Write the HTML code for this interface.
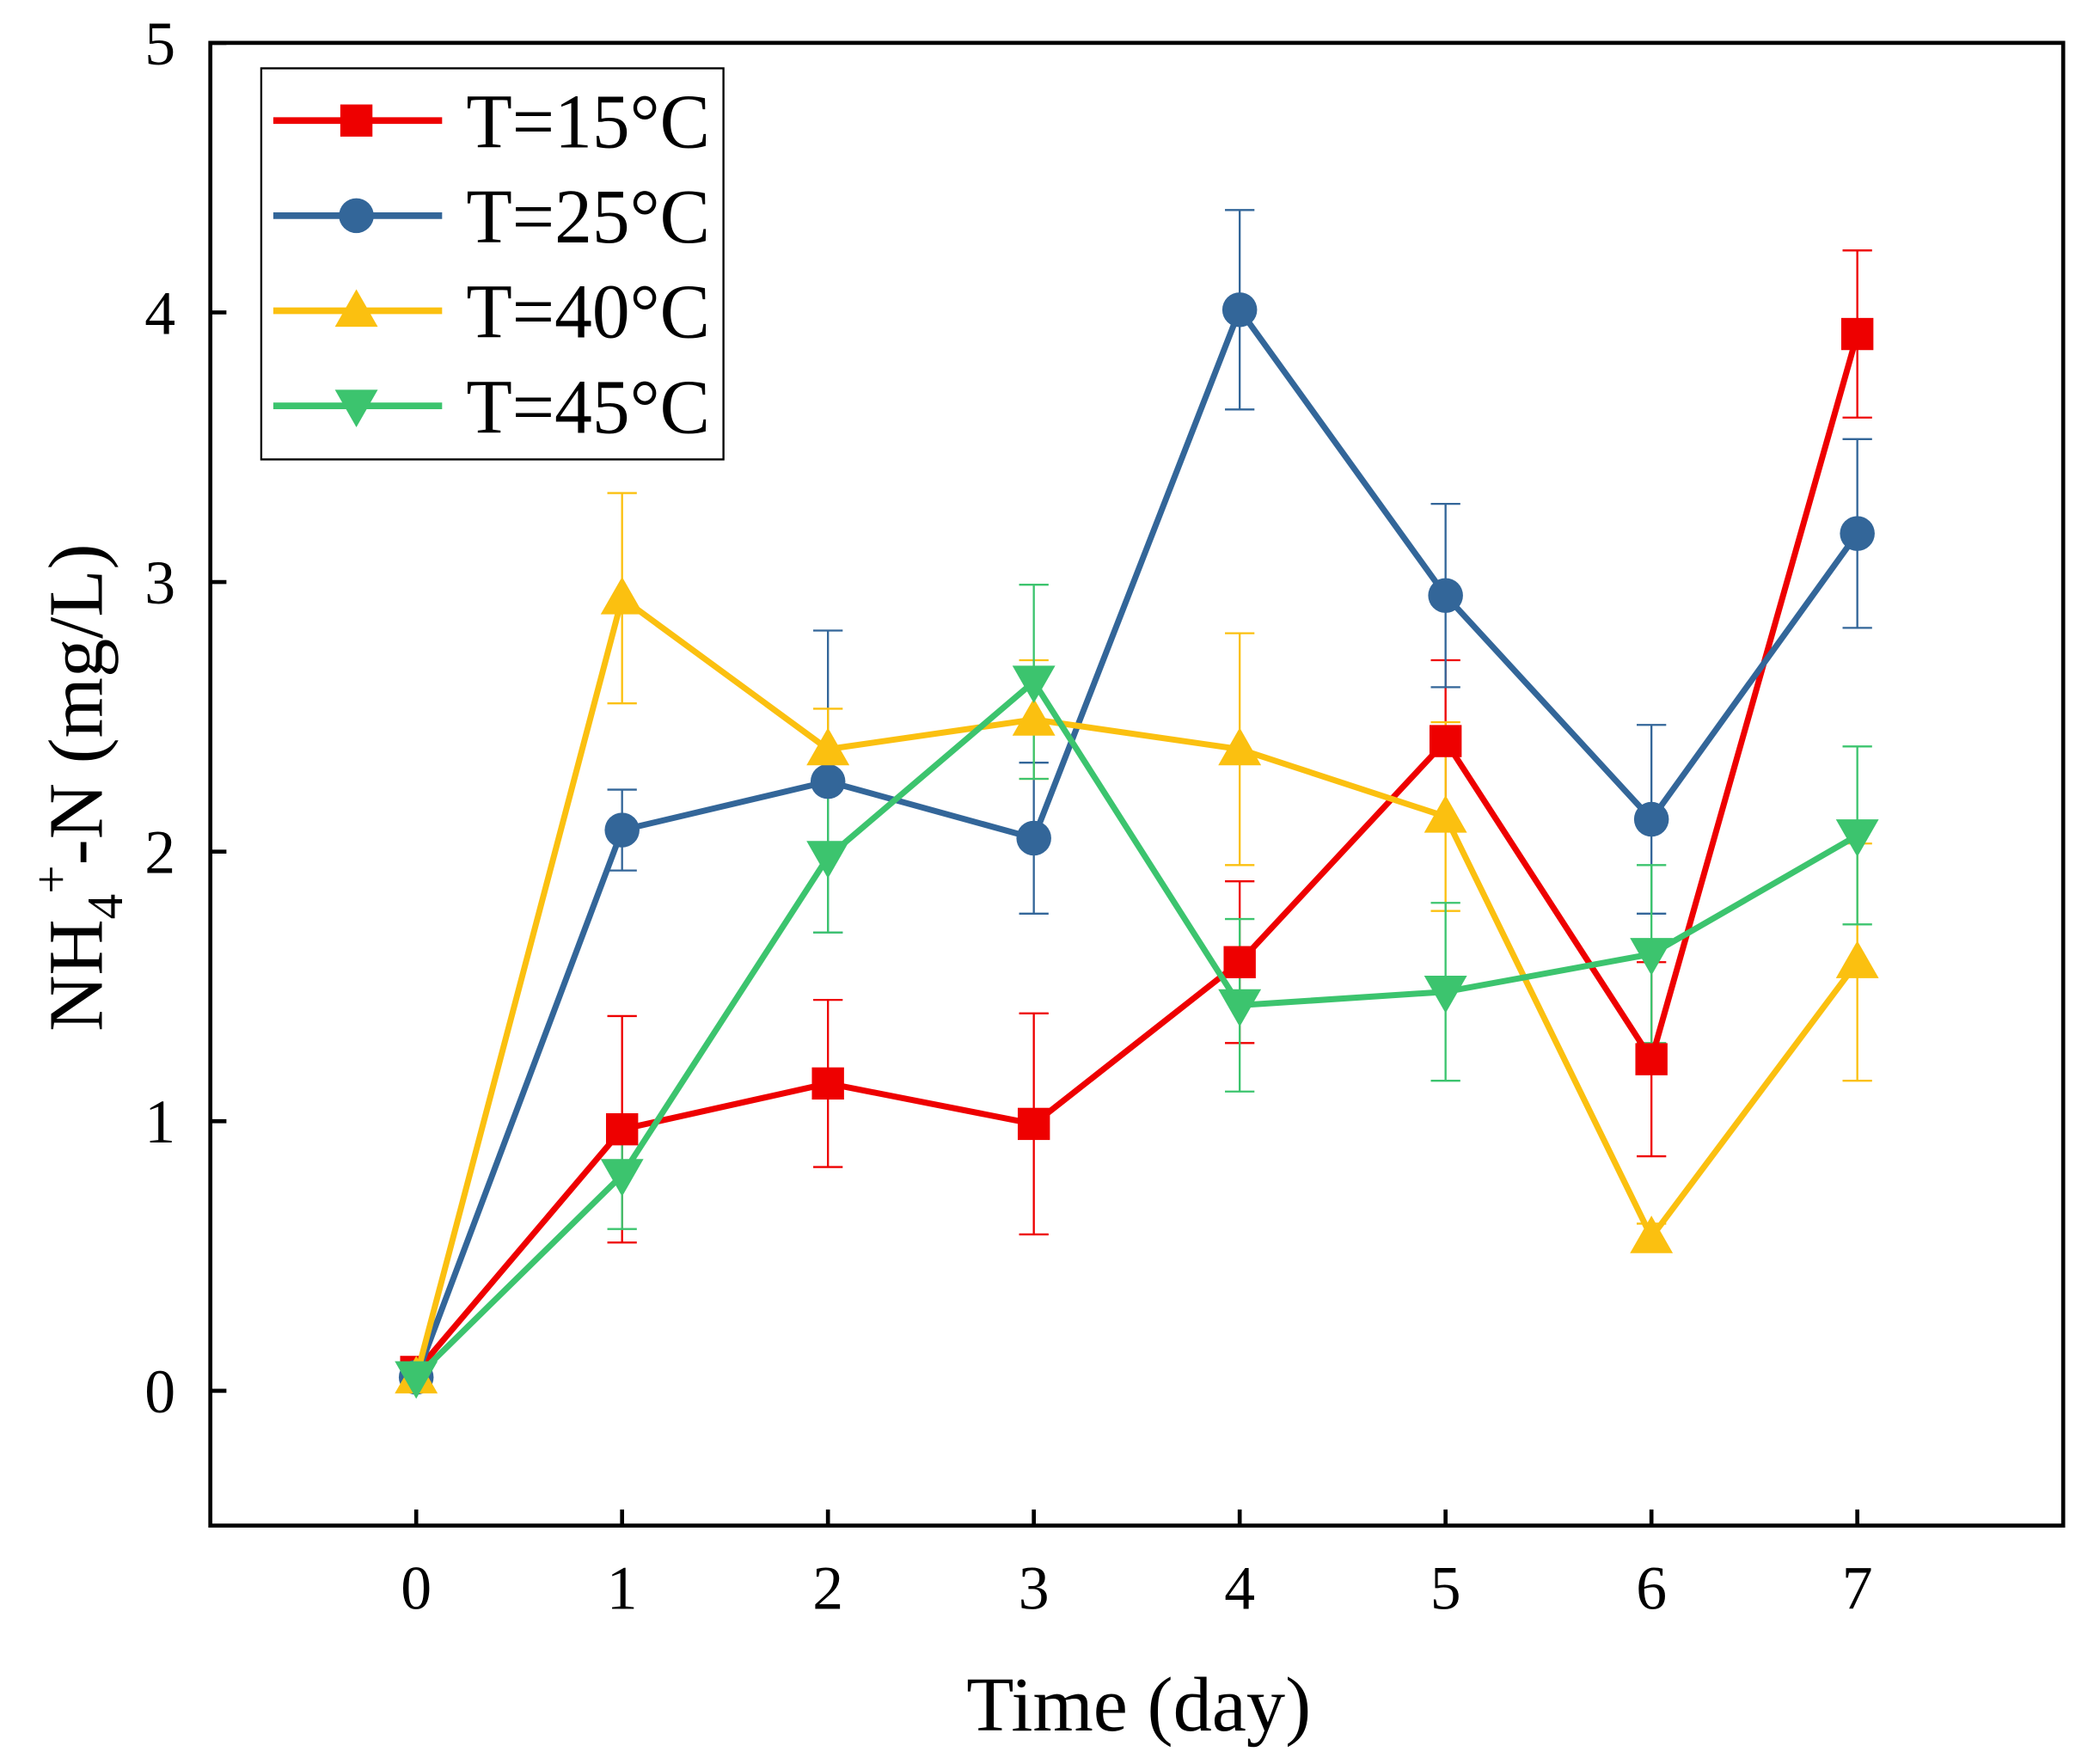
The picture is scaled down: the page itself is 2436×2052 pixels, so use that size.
<!DOCTYPE html>
<html><head><meta charset="utf-8"><style>
html,body{margin:0;padding:0;background:#fff}
svg{display:block}
text{font-family:"Liberation Serif","Times New Roman",Tinos,serif;fill:#000}
</style></head><body>
<svg id="chart" width="2436" height="2052" viewBox="0 0 1563 1317" preserveAspectRatio="none" xmlns="http://www.w3.org/2000/svg">
<g id="layer"></g>
</svg>
<script>
const days = [0,1,2,3,4,5,6,7];
const yTicks = [0,1,2,3,4,5];
const seriesNames = ["T=15°C","T=25°C","T=40°C","T=45°C"];
const vals15 = [0.07,0.97,1.14,0.99,1.59,2.41,1.23,3.92];
const err15  = [0.02,0.42,0.31,0.41,0.30,0.30,0.36,0.31];
const vals25 = [0.05,2.08,2.26,2.05,4.01,2.95,2.12,3.18];
const err25  = [0.02,0.15,0.56,0.28,0.37,0.34,0.35,0.35];
const vals40 = [0.05,2.94,2.38,2.49,2.38,2.13,0.57,1.59];
const err40  = [0.02,0.39,0.15,0.22,0.43,0.35,0.05,0.44];
const vals45 = [0.05,0.80,1.98,2.63,1.43,1.48,1.62,2.06];
const err45  = [0.02,0.20,0.28,0.36,0.32,0.33,0.33,0.33];

const L=157,R=1540,T=32,B=1139;
const xMin=-1,xMax=8,yMin=-0.5,yMax=5;
const sx=v=>L+(v-xMin)/(xMax-xMin)*(R-L);
const sy=v=>B-(v-yMin)/(yMax-yMin)*(B-T);
const NS="http://www.w3.org/2000/svg";
const g=document.getElementById('layer');
function mk(tag,attrs,parent){const e=document.createElementNS(NS,tag);for(const k in attrs)e.setAttribute(k,attrs[k]);(parent||g).appendChild(e);return e;}

const colors=["#ee0000","#336699","#fbc010","#3cc46e"];
const shapes=["square","circle","up","down"];
const allVals=[vals15,vals25,vals40,vals45];
const allErr=[err15,err25,err40,err45];

function marker(shape,x,y,c,parent){
  let e;
  if(shape==="square") e=mk('rect',{x:x-12,y:y-12,width:24,height:24,fill:c},parent);
  else if(shape==="circle") e=mk('ellipse',{cx:x,cy:y,rx:13,ry:13,fill:c},parent);
  else if(shape==="up") e=mk('polygon',{points:`${x},${y-16} ${x-16},${y+12} ${x+16},${y+12}`,fill:c},parent);
  else e=mk('polygon',{points:`${x},${y+16} ${x-16},${y-12} ${x+16},${y-12}`,fill:c},parent);
  return e;
}

allVals.forEach((vs,si)=>{
  const eg=mk('g',{});
  
  
  vs.forEach((v,i)=>{
    const x=sx(days[i]),y1=sy(v+allErr[si][i]),y2=sy(v-allErr[si][i]);
    mk('line',{x1:x,y1:y1,x2:x,y2:y2,stroke:colors[si],'stroke-width':1.5},eg);
    mk('line',{x1:x-11,y1:y1,x2:x+11,y2:y1,stroke:colors[si],'stroke-width':1.5},eg);
    mk('line',{x1:x-11,y1:y2,x2:x+11,y2:y2,stroke:colors[si],'stroke-width':1.5},eg);
  });
});
allVals.forEach((vs,si)=>{
  const sg=mk('g',{});
  
  
  const pl=mk('polyline',{points:vs.map((v,i)=>sx(days[i])+','+sy(v)).join(' '),fill:'none',stroke:colors[si],'stroke-width':4.5,'stroke-linejoin':'round'},sg);
  
  
  vs.forEach((v,i)=>{
    const m=marker(shapes[si],sx(days[i]),sy(v),colors[si],sg);
    
    
  });
});
const fr=mk('rect',{x:L,y:T,width:R-L,height:B-T,fill:'none',stroke:'#000','stroke-width':3});


yTicks.forEach(t=>{
  const y=sy(t);
  mk('line',{x1:L,y1:y,x2:L+12,y2:y,stroke:'#000','stroke-width':3});
  const tx=mk('text',{x:131,y:y+16,'text-anchor':'end','font-size':46});
  tx.textContent=t;
  
  
});
days.forEach(d=>{
  const x=sx(d);
  mk('line',{x1:x,y1:B,x2:x,y2:B-12,stroke:'#000','stroke-width':3});
  const tx=mk('text',{x:x,y:1201,'text-anchor':'middle','font-size':46});
  tx.textContent=d;
  
  
});
const xt=mk('text',{x:850,y:1292,'text-anchor':'middle','font-size':58});
xt.textContent='Time (day)';


const yt=mk('text',{transform:'translate(76,588) rotate(-90)','text-anchor':'middle','font-size':58});
yt.innerHTML='NH<tspan font-size="38" dy="15">4</tspan><tspan font-size="38" dy="-40">+</tspan><tspan dy="25">-N (mg/L)</tspan>';


const lg=mk('g',{});


mk('rect',{x:195,y:51,width:345,height:292,fill:'#fff',stroke:'#000','stroke-width':1.5},lg);
seriesNames.forEach((n,i)=>{
  const y=90+i*71;
  const eg=mk('g',{},lg);
  
  
  mk('line',{x1:204,y1:y,x2:330,y2:y,stroke:colors[i],'stroke-width':5},eg);
  marker(shapes[i],266,y,colors[i],eg);
  const t=mk('text',{x:348,y:y+20,'font-size':58,textLength:182,lengthAdjust:'spacingAndGlyphs'},eg);
  t.textContent=n;
});
</script>
</body></html>
